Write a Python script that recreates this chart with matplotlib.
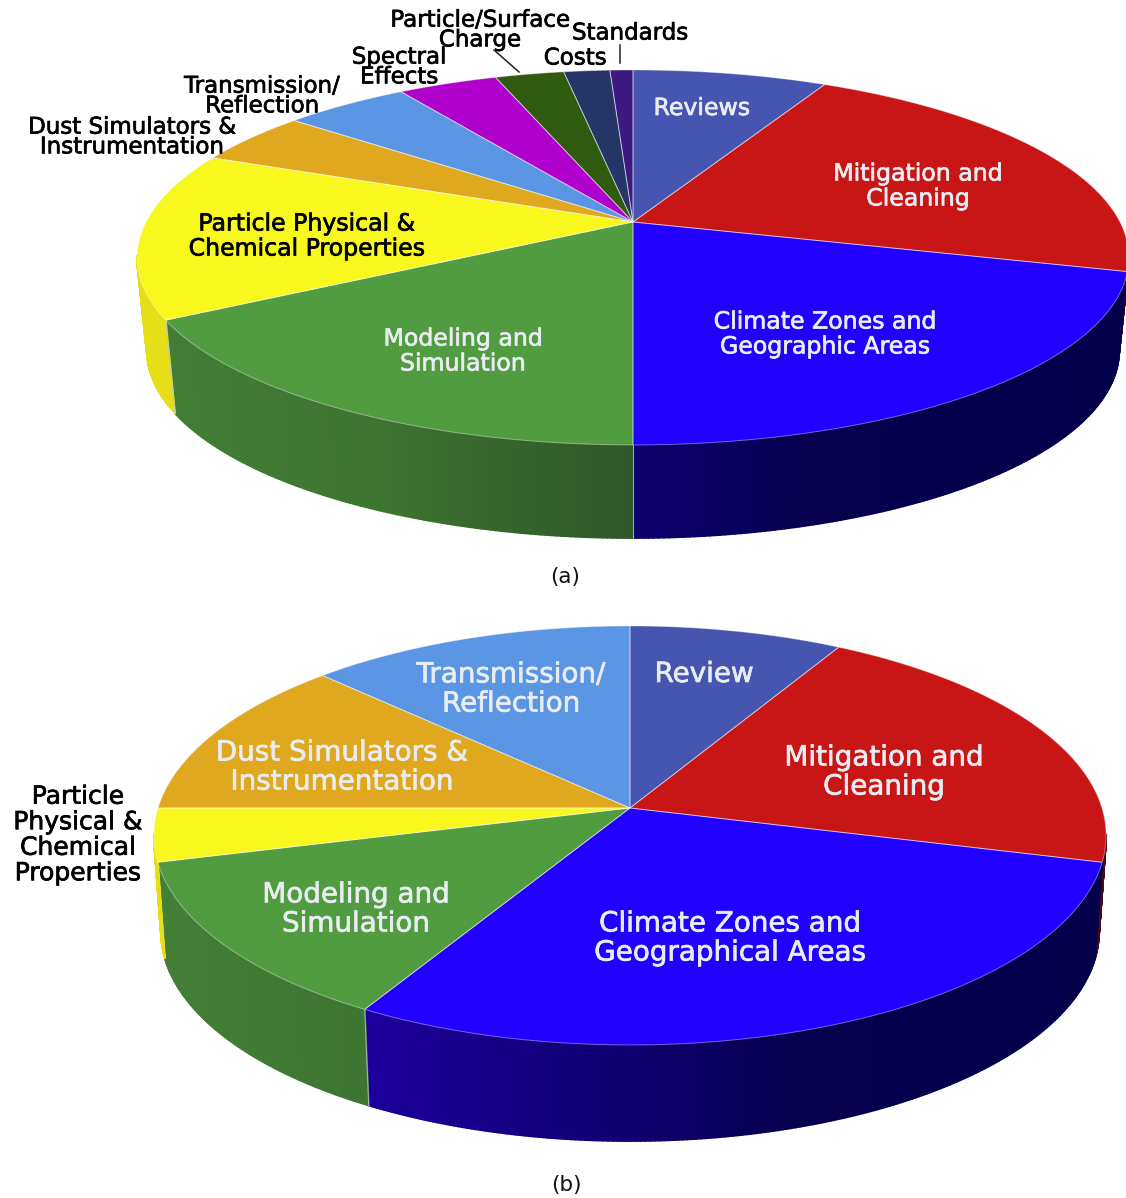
import matplotlib
matplotlib.use('Agg')
import matplotlib.pyplot as plt
import matplotlib.patheffects as pe
from matplotlib.collections import PolyCollection
from matplotlib.colors import to_rgb
from matplotlib.patches import Polygon
import numpy as np

# share of each topic, in percent, clockwise from twelve o'clock
topics_a = ['Reviews', 'Mitigation', 'Climate', 'Modeling', 'Particle', 'Dust',
            'Transmission', 'Spectral', 'Surface', 'Costs', 'Standards']
shares_a = [7.6, 21.6, 20.8, 16.8, 14.4, 4.6, 4.9, 3.9, 2.7, 1.8, 0.9]

topics_b = ['Reviews', 'Mitigation', 'Climate', 'Modeling', 'Particle', 'Dust', 'Transmission']
shares_b = [8.2, 20.9, 29.2, 12.6, 4.1, 12.4, 12.6]

colors = {'Reviews': '#4656b0', 'Mitigation': '#c81616', 'Climate': '#2200ff',
          'Modeling': '#519c40', 'Particle': '#f8f81e', 'Dust': '#e0a81e',
          'Transmission': '#5a96e4', 'Spectral': '#b000cc', 'Surface': '#2f5a10',
          'Costs': '#243566', 'Standards': '#3c1a80'}

# side wall colours, as (horizontal offset from centre / radius, colour)
wall_stops = {'Climate': [(-0.6, '#1e00a0'), (0.0, '#0e0070'), (0.35, '#06004e'), (1.0, '#04004a')],
              'Modeling': [(-1.0, '#437f36'), (-0.5, '#3c7430'), (0.0, '#2e5727')],
              'Particle': [(-1.0, '#e6df18'), (-0.8, '#e6df18')],
              'Dust': [(-1.0, '#b08418'), (-0.8, '#b08418')],
              'Mitigation': [(0.9, '#4a0a14'), (1.0, '#4a0a14')]}

FONT = 'DejaVu Sans'
LIGHT = '#e9edf2'


def project(theta, geo):
    # perspective view of a unit disc, theta clockwise from the top
    u, v = np.sin(theta), np.cos(theta)
    w = 1 + geo['k'] * v
    return geo['cx'] + geo['a'] * u / w, geo['cy'] - geo['b'] * v / w


def wall_color(name, offset):
    stops = wall_stops.get(name, [(-1, '#333333'), (1, '#333333')])
    xs = [s[0] for s in stops]
    rgb = np.array([to_rgb(s[1]) for s in stops])
    return [np.interp(offset, xs, rgb[:, i]) for i in range(3)]


def draw_pie(ax, topics, shares, geo):
    edges = np.cumsum([0] + list(shares)) / np.sum(shares) * 2 * np.pi
    rx = geo['a'] / np.sqrt(1 - geo['k'] ** 2)
    # widest row of the ellipse; the wall only shows below it
    widest = geo['cy'] + geo['b'] * geo['k'] / (1 - geo['k'] ** 2)

    quads, shades = [], []
    for name, t0, t1 in zip(topics, edges[:-1], edges[1:]):
        steps = max(2, int((t1 - t0) / np.radians(0.5)))
        t = np.linspace(t0, t1, steps + 1)
        x, y = project(t, geo)
        xb = geo['cx'] + (x - geo['cx']) * geo['taper']
        yb = y + geo['depth']
        for i in range(steps):
            if max(y[i], y[i + 1]) < widest:
                continue
            quads.append([(x[i], y[i]), (x[i + 1], y[i + 1]), (xb[i + 1], yb[i + 1]), (xb[i], yb[i])])
            shades.append(wall_color(name, ((x[i] + x[i + 1]) / 2 - geo['cx']) / rx))
    ax.add_collection(PolyCollection(quads, facecolors=shades, edgecolors=shades, linewidths=1.4))

    # seams on the wall where two slices meet
    for t in edges[1:-1]:
        x, y = project(t, geo)
        if y > widest + 40:
            ax.plot([x, geo['cx'] + (x - geo['cx']) * geo['taper']], [y, y + geo['depth']],
                    color='#b8c4d8', lw=0.8, alpha=0.8, zorder=2)

    for name, t0, t1 in zip(topics, edges[:-1], edges[1:]):
        t = np.linspace(t0, t1, max(3, int((t1 - t0) / np.radians(0.5))))
        x, y = project(t, geo)
        pts = np.column_stack([np.r_[geo['cx'], x], np.r_[geo['cy'], y]])
        ax.add_patch(Polygon(pts, closed=True, facecolor=colors[name], edgecolor='none', zorder=3))
        ax.add_patch(Polygon(pts, closed=True, fill=False, edgecolor='#ffffff', lw=0.7, alpha=0.4, zorder=4))


def label(ax, x, y, text, size, color='black', spacing=1.05):
    ax.text(x, y, text, ha='center', va='center', fontsize=size, color=color, family=FONT,
            linespacing=spacing, zorder=5,
            path_effects=[pe.withStroke(linewidth=0.5, foreground=color)])


fig = plt.figure(figsize=(11.26, 11.98), dpi=100)
ax = fig.add_axes([0, 0, 1, 1])
ax.set_xlim(0, 1126)
ax.set_ylim(1198, 0)
ax.axis('off')

draw_pie(ax, topics_a, shares_a, dict(cx=633, cy=222, a=487, b=180.8, k=0.189, depth=93, taper=0.98))
draw_pie(ax, topics_b, shares_b, dict(cx=630, cy=808, a=472, b=205.9, k=0.131, depth=96, taper=0.985))

# upper pie
SIZE_A = 17
label(ax, 702, 108, 'Reviews', SIZE_A, LIGHT)
label(ax, 918, 186, 'Mitigation and\nCleaning', SIZE_A, LIGHT)
label(ax, 825, 334, 'Climate Zones and\nGeographic Areas', SIZE_A, LIGHT)
label(ax, 463, 351, 'Modeling and\nSimulation', SIZE_A, LIGHT)
label(ax, 307, 236, 'Particle Physical &\nChemical Properties', SIZE_A)
SMALL_A = 16.5
label(ax, 132, 137, 'Dust Simulators &\nInstrumentation', SMALL_A, spacing=0.82)
label(ax, 262, 96, 'Transmission/\nReflection', SMALL_A, spacing=0.82)
label(ax, 399, 67, 'Spectral\nEffects', SMALL_A, spacing=0.82)
label(ax, 480, 30, 'Particle/Surface\nCharge', SMALL_A, spacing=0.82)
label(ax, 575, 58, 'Costs', SMALL_A)
label(ax, 630, 33, 'Standards', SMALL_A)
ax.plot([494, 519], [50, 72], color='#222222', lw=1.1, zorder=5)
ax.plot([620, 620], [45, 63], color='#222222', lw=1.1, zorder=5)

# lower pie
SIZE_B = 20
label(ax, 704, 674, 'Review', SIZE_B, LIGHT)
label(ax, 884, 772, 'Mitigation and\nCleaning', SIZE_B, LIGHT)
label(ax, 730, 938, 'Climate Zones and\nGeographical Areas', SIZE_B, LIGHT)
label(ax, 356, 909, 'Modeling and\nSimulation', SIZE_B, LIGHT)
label(ax, 342, 767, 'Dust Simulators &\nInstrumentation', SIZE_B, LIGHT)
label(ax, 511, 689, 'Transmission/\nReflection', SIZE_B, LIGHT)
label(ax, 78, 835, 'Particle\nPhysical &\nChemical\nProperties', 18, spacing=1.08)

ax.text(565, 577, '(a)', ha='center', va='center', fontsize=15.5, family='DejaVu Sans', color='#111111')
ax.text(566, 1185, '(b)', ha='center', va='center', fontsize=15.5, family='DejaVu Sans', color='#111111')

fig.savefig('out.png', dpi=100, facecolor='white')
